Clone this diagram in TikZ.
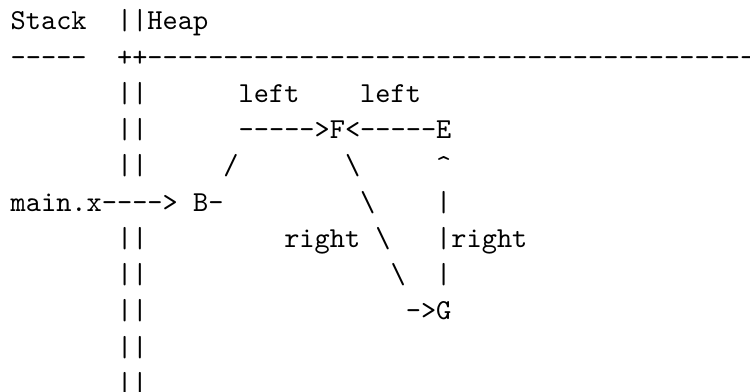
\documentclass[tikz,border=0pt]{standalone}
\newcommand\hy{-\kern0pt}
\tikzset{
  tt/.style={anchor=base west, inner sep=0pt, outer sep=0pt, font=\ttfamily},
}
\begin{document}
\begin{tikzpicture}
\fill[white] (0,0) rectangle (259.1pt,-135.4pt);
\useasboundingbox (0,0) rectangle (259.1pt,-135.4pt);
\begin{scope}[shift={(3.7pt,-10.36pt)}, x=5.25pt, y=-12.52pt]
% row 0
\node[tt] (stack) at (0,0) {Stack};
\node[tt] (bar0) at (7,0) {||};
\node[tt] (heap) at (9,0) {Heap};
% row 1
\node[tt] (rule1) at (0,1) {\hy\hy\hy\hy\hy};
\node[tt] (plus) at (7,1) {++};
\node[tt] (rule2) at (9,1) {\hy\hy\hy\hy\hy\hy\hy\hy\hy\hy\hy\hy\hy\hy\hy\hy\hy\hy\hy\hy\hy\hy\hy\hy\hy\hy\hy\hy\hy\hy\hy\hy\hy\hy\hy\hy\hy\hy\hy\hy\hy\hy};
% row 2
\node[tt] (bar2) at (7,2) {||};
\node[tt] (leftA) at (15,2) {left};
\node[tt] (leftB) at (23,2) {left};
% row 3
\node[tt] (bar3) at (7,3) {||};
\node[tt] (arrBF) at (15,3) {\hy\hy\hy\hy\hy>};
\node[tt] (F) at (21,3) {F};
\node[tt] (arrEF) at (22,3) {<\hy\hy\hy\hy\hy};
\node[tt] (E) at (28,3) {E};
% row 4
\node[tt] (bar4) at (7,4) {||};
\node[tt] (slash) at (14,4) {/};
\node[tt] (bsA) at (22,4) {\textbackslash};
\node[tt] (caret) at (28,4) {\textasciicircum};
% row 5
\node[tt] (mainx) at (0,5) {main.x\hy\hy\hy\hy>};
\node[tt] (B) at (12,5) {B};
\node[tt] (Bdash) at (13,5) {-};
\node[tt] (bsB) at (23,5) {\textbackslash};
\node[tt] (vA) at (28,5) {|};
% row 6
\node[tt] (bar6) at (7,6) {||};
\node[tt] (rightA) at (18,6) {right};
\node[tt] (bsC) at (24,6) {\textbackslash};
\node[tt] (vB) at (28,6) {|};
\node[tt] (rightB) at (29,6) {right};
% row 7
\node[tt] (bar7) at (7,7) {||};
\node[tt] (bsD) at (25,7) {\textbackslash};
\node[tt] (vC) at (28,7) {|};
% row 8
\node[tt] (bar8) at (7,8) {||};
\node[tt] (arrG) at (26,8) {\hy>};
\node[tt] (G) at (28,8) {G};
% rows 9, 10
\node[tt] (bar9) at (7,9) {||};
\node[tt] (bar10) at (7,10) {||};
\end{scope}
\end{tikzpicture}
\end{document}
